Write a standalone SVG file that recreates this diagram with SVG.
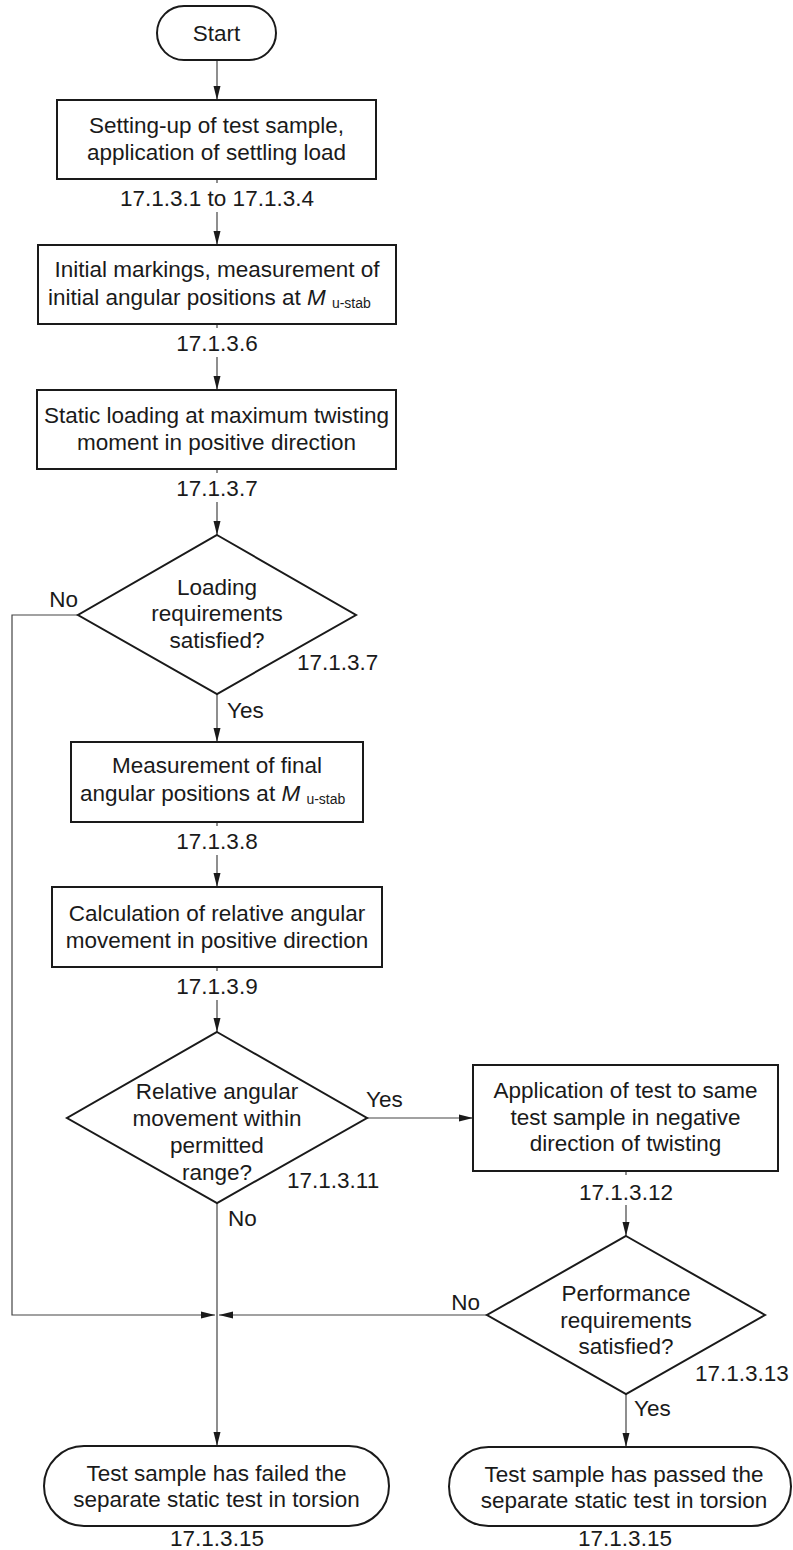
<svg xmlns="http://www.w3.org/2000/svg" width="793" height="1550" viewBox="0 0 793 1550">
<defs>
<marker id="arr" markerUnits="userSpaceOnUse" markerWidth="14" markerHeight="8" refX="14" refY="4" orient="auto">
<path d="M0,0.5 L14,4 L0,7.5 z" fill="#1a1a1a"/>
</marker>
</defs>
<style>
text{font-family:"Liberation Sans",Arial,sans-serif;font-size:22.5px;fill:#1a1a1a}
.c{text-anchor:middle}
.e{text-anchor:end}
.sub{font-size:14px}
.it{font-style:italic}
.shape{fill:#fff;stroke:#1a1a1a;stroke-width:2}
.conn{fill:none;stroke:#444;stroke-width:1.2}
</style>
<rect width="793" height="1550" fill="#fff"/>
<g id="connectors">
<line class="conn" x1="217" y1="60" x2="217" y2="100" marker-end="url(#arr)"/>
<line class="conn" x1="217" y1="179" x2="217" y2="183"/>
<line class="conn" x1="217" y1="212" x2="217" y2="245" marker-end="url(#arr)"/>
<line class="conn" x1="217" y1="324" x2="217" y2="328"/>
<line class="conn" x1="217" y1="357" x2="217" y2="390" marker-end="url(#arr)"/>
<line class="conn" x1="217" y1="469" x2="217" y2="473"/>
<line class="conn" x1="217" y1="502" x2="217" y2="535" marker-end="url(#arr)"/>
<line class="conn" x1="217" y1="694" x2="217" y2="742" marker-end="url(#arr)"/>
<line class="conn" x1="217" y1="822" x2="217" y2="826"/>
<line class="conn" x1="217" y1="855" x2="217" y2="887" marker-end="url(#arr)"/>
<line class="conn" x1="217" y1="967" x2="217" y2="971"/>
<line class="conn" x1="217" y1="1000" x2="217" y2="1032" marker-end="url(#arr)"/>
<line class="conn" x1="217" y1="1203" x2="217" y2="1446" marker-end="url(#arr)"/>
<line class="conn" x1="367" y1="1118" x2="473" y2="1118" marker-end="url(#arr)"/>
<line class="conn" x1="626" y1="1171" x2="626" y2="1175"/>
<line class="conn" x1="626" y1="1205" x2="626" y2="1236" marker-end="url(#arr)"/>
<polyline class="conn" points="78,615 12,615 12,1315 215,1315" marker-end="url(#arr)"/>
<line class="conn" x1="487" y1="1315" x2="219" y2="1315" marker-end="url(#arr)"/>
<line class="conn" x1="626" y1="1394" x2="626" y2="1447" marker-end="url(#arr)"/>
</g>
<g id="start">
<rect class="shape" x="157" y="6" width="119" height="54" rx="27"/>
<text class="c" x="216.5" y="41">Start</text>
</g>
<g id="setup">
<rect class="shape" x="57" y="100" width="319" height="79"/>
<text class="c" x="216.5" y="133">Setting-up of test sample,</text>
<text class="c" x="216.5" y="160">application of settling load</text>
<text class="c" x="217" y="206">17.1.3.1 to 17.1.3.4</text>
</g>
<g id="initial">
<rect class="shape" x="38" y="245" width="358" height="79"/>
<text class="c" x="217" y="277">Initial markings, measurement of</text>
<text x="48" y="305">initial angular positions at <tspan class="it">M</tspan> <tspan class="sub" dy="3">u-stab</tspan></text>
<text class="c" x="217" y="351">17.1.3.6</text>
</g>
<g id="static">
<rect class="shape" x="37" y="390" width="359" height="79"/>
<text class="c" x="216.5" y="423">Static loading at maximum twisting</text>
<text class="c" x="216.5" y="450">moment in positive direction</text>
<text class="c" x="217" y="496">17.1.3.7</text>
</g>
<g id="dec1">
<polygon class="shape" points="217,535 356,615 217,694 78,615"/>
<text class="c" x="217" y="595">Loading</text>
<text class="c" x="217" y="621">requirements</text>
<text class="c" x="217" y="648">satisfied?</text>
<text class="e" x="78" y="607">No</text>
<text x="297" y="670">17.1.3.7</text>
<text x="227" y="718">Yes</text>
</g>
<g id="final">
<rect class="shape" x="71" y="742" width="292" height="80"/>
<text class="c" x="217" y="773">Measurement of final</text>
<text x="80" y="801">angular positions at <tspan class="it">M</tspan> <tspan class="sub" dy="3">u-stab</tspan></text>
<text class="c" x="217" y="849">17.1.3.8</text>
</g>
<g id="calc">
<rect class="shape" x="52" y="887" width="330" height="80"/>
<text class="c" x="217" y="921">Calculation of relative angular</text>
<text class="c" x="217" y="948">movement in positive direction</text>
<text class="c" x="217" y="994">17.1.3.9</text>
</g>
<g id="dec2">
<polygon class="shape" points="217,1032 367,1118 217,1203 67,1118"/>
<text class="c" x="217" y="1099">Relative angular</text>
<text class="c" x="217" y="1126">movement within</text>
<text class="c" x="217" y="1153">permitted</text>
<text class="c" x="217" y="1180">range?</text>
<text x="366" y="1107">Yes</text>
<text x="287" y="1188">17.1.3.11</text>
<text x="228" y="1226">No</text>
</g>
<g id="negative">
<rect class="shape" x="473" y="1065" width="305" height="106"/>
<text class="c" x="625.5" y="1098">Application of test to same</text>
<text class="c" x="625.5" y="1125">test sample in negative</text>
<text class="c" x="625.5" y="1151">direction of twisting</text>
<text class="c" x="626" y="1200">17.1.3.12</text>
</g>
<g id="dec3">
<polygon class="shape" points="626,1236 765,1315 626,1394 487,1315"/>
<text class="c" x="626" y="1301">Performance</text>
<text class="c" x="626" y="1328">requirements</text>
<text class="c" x="626" y="1354">satisfied?</text>
<text class="e" x="480" y="1310">No</text>
<text x="695" y="1381">17.1.3.13</text>
<text x="634" y="1416">Yes</text>
</g>
<g id="failed">
<rect class="shape" x="44" y="1446" width="345" height="80" rx="40"/>
<text class="c" x="216.5" y="1481">Test sample has failed the</text>
<text class="c" x="216.5" y="1507">separate static test in torsion</text>
<text class="c" x="217" y="1546">17.1.3.15</text>
</g>
<g id="passed">
<rect class="shape" x="449" y="1447" width="342" height="79" rx="39.5"/>
<text class="c" x="624" y="1482">Test sample has passed the</text>
<text class="c" x="624" y="1508">separate static test in torsion</text>
<text class="c" x="625" y="1546">17.1.3.15</text>
</g>
</svg>
